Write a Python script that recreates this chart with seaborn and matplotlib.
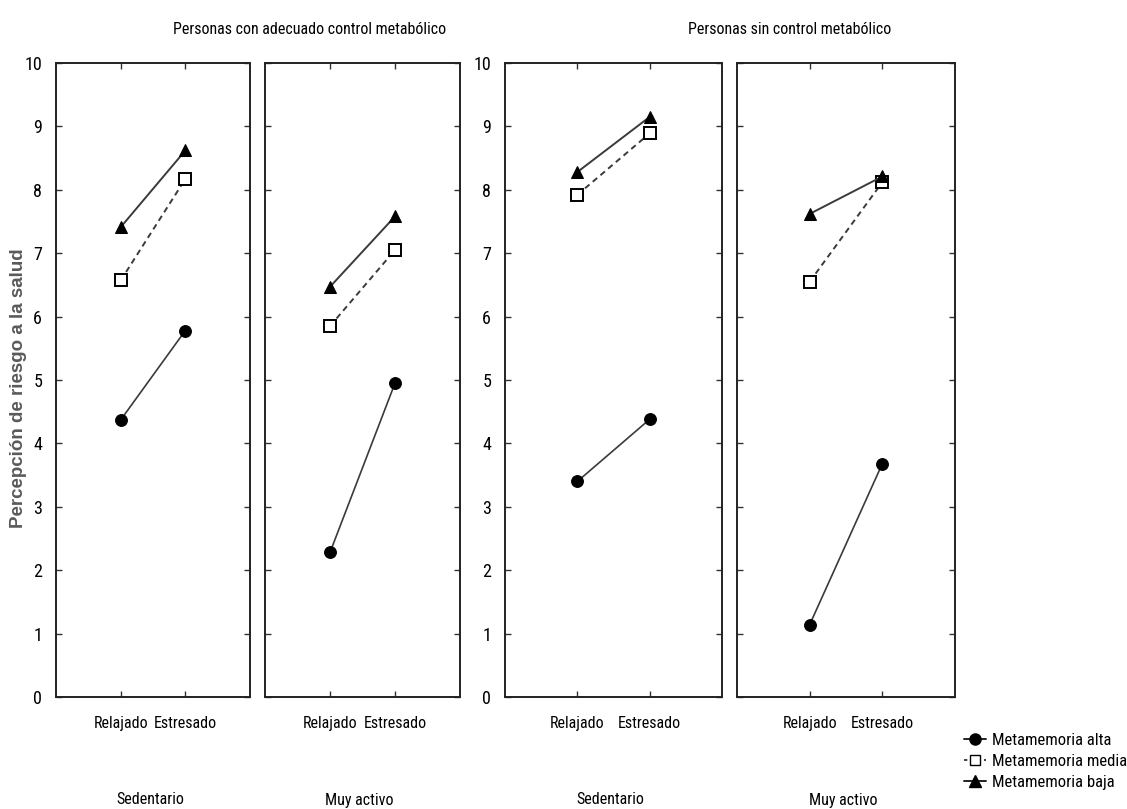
import matplotlib
matplotlib.use("Agg")
import matplotlib.pyplot as plt
import numpy as np
import pandas as pd
import seaborn as sns
from matplotlib.lines import Line2D

# Conditions on the x axis and the three metamemory groups
condiciones = ["Relajado", "Estresado"]
grupos = ["Metamemoria alta", "Metamemoria media", "Metamemoria baja"]
actividad = ["Sedentario", "Muy activo", "Sedentario", "Muy activo"]
titulos = ["Personas con adecuado control metabólico", "Personas sin control metabólico"]
yticks = list(range(0, 11))

# Mean health-risk perception (Relajado, Estresado) per panel and group
con_sedentario_alta = [4.37, 5.78]
con_sedentario_media = [6.57, 8.17]
con_sedentario_baja = [7.41, 8.62]

con_activo_alta = [2.28, 4.95]
con_activo_media = [5.85, 7.05]
con_activo_baja = [6.47, 7.58]

sin_sedentario_alta = [3.40, 4.38]
sin_sedentario_media = [7.92, 8.89]
sin_sedentario_baja = [8.28, 9.15]

sin_activo_alta = [1.14, 3.68]
sin_activo_media = [6.55, 8.12]
sin_activo_baja = [7.62, 8.21]

paneles = [
    [con_sedentario_alta, con_sedentario_media, con_sedentario_baja],
    [con_activo_alta, con_activo_media, con_activo_baja],
    [sin_sedentario_alta, sin_sedentario_media, sin_sedentario_baja],
    [sin_activo_alta, sin_activo_media, sin_activo_baja],
]

rows = []
for p, series in enumerate(paneles):
    for g, vals in zip(grupos, series):
        for i, (c, v) in enumerate(zip(condiciones, vals)):
            rows.append({"panel": p, "grupo": g, "pos": i, "condicion": c, "valor": v})
df = pd.DataFrame(rows)

sns.set_style("ticks")
narrow = ["Roboto Condensed", "DejaVu Sans"]
plt.rcParams["font.family"] = narrow
plt.rcParams["axes.linewidth"] = 1.4
plt.rcParams["text.color"] = "black"
plt.rcParams["xtick.labelcolor"] = "black"
plt.rcParams["ytick.labelcolor"] = "black"
FS = 11.5

W, H = 1127, 809
fig = plt.figure(figsize=(W / 100, H / 100), dpi=100)

# axes boxes in pixels: left, right
boxes = [(56, 250), (265, 460), (505, 722), (737, 955)]
top_px, bot_px = 63, 697

markers = {"Metamemoria alta": "o", "Metamemoria media": "s", "Metamemoria baja": "^"}
dashes = {"Metamemoria alta": "", "Metamemoria media": (3, 2.2), "Metamemoria baja": ""}
palette = {g: "#3a3a3a" for g in grupos}

for p, (l, r) in enumerate(boxes):
    ax = fig.add_axes([l / W, 1 - bot_px / H, (r - l) / W, (bot_px - top_px) / H])
    sub = df[df["panel"] == p]
    sns.lineplot(data=sub, x="pos", y="valor", hue="grupo", style="grupo",
                 hue_order=grupos, style_order=grupos,
                 markers=markers, dashes=dashes, palette=palette,
                 markersize=8.5, linewidth=1.4, legend=False, ax=ax)
    for ln in ax.lines:
        ln.set_markeredgecolor("black")
        if ln.get_marker() == "s":
            ln.set_markerfacecolor("white")
            ln.set_markeredgewidth(1.4)
            ln.set_markersize(8)
            ln.set_zorder(2)
        else:
            ln.set_markerfacecolor("black")
            ln.set_zorder(3)
        if ln.get_marker() == "o":
            ln.set_linewidth(1.2)
    ax.set_xlim(-1, 2)
    ax.set_ylim(0, 10)
    ax.set_xticks([0, 1])
    ax.set_xticklabels(condiciones, fontsize=FS, color="black")
    ax.set_yticks(yticks)
    ax.set_xlabel("")
    ax.set_ylabel("")
    ax.tick_params(direction="in", top=True, right=True, left=True, bottom=True,
                   length=4, width=1.0, color="#333333")
    ax.tick_params(axis="x", pad=14)
    if p in (0, 2):
        ax.set_yticklabels([str(t) for t in yticks], fontsize=13, color="black")
        ax.tick_params(axis="y", pad=10)
    else:
        ax.set_yticklabels([])
    for s in ax.spines.values():
        s.set_color("#222222")

    # activity label under each panel
    cx = (l + r) / 2 / W
    fig.text(cx - 3 / W, 1 - 800 / H, actividad[p], ha="center", va="center",
             fontsize=FS, color="black")

# group titles
fig.text(310 / W, 1 - 30 / H, titulos[0], ha="center", va="center", fontsize=FS, color="black")
fig.text(790 / W, 1 - 30 / H, titulos[1], ha="center", va="center", fontsize=FS, color="black")

# y axis title
fig.text(19 / W, 1 - 388 / H, "Percepción de riesgo a la salud", rotation=90,
         ha="center", va="center", fontsize=13.5, fontweight="bold",
         color="#5a5a5a", family=["Liberation Sans", "DejaVu Sans"])

# legend
handles = [
    Line2D([], [], color="#222222", lw=1.4, marker="o", markersize=8,
           markerfacecolor="black", markeredgecolor="black"),
    Line2D([], [], color="#222222", lw=1.2, ls=(0, (2, 2)), marker="s", markersize=7,
           markerfacecolor="white", markeredgecolor="black"),
    Line2D([], [], color="#222222", lw=1.4, marker="^", markersize=8,
           markerfacecolor="black", markeredgecolor="black"),
]
leg = fig.legend(handles, grupos, loc="upper left", bbox_to_anchor=(964 / W, 1 - 733 / H),
                 frameon=False, fontsize=FS + 0.5, handlelength=1.3, handletextpad=0.35,
                 labelspacing=0.35, borderpad=0, borderaxespad=0)
for t in leg.get_texts():
    t.set_color("black")

fig.savefig("out.png", dpi=100, facecolor="white")
